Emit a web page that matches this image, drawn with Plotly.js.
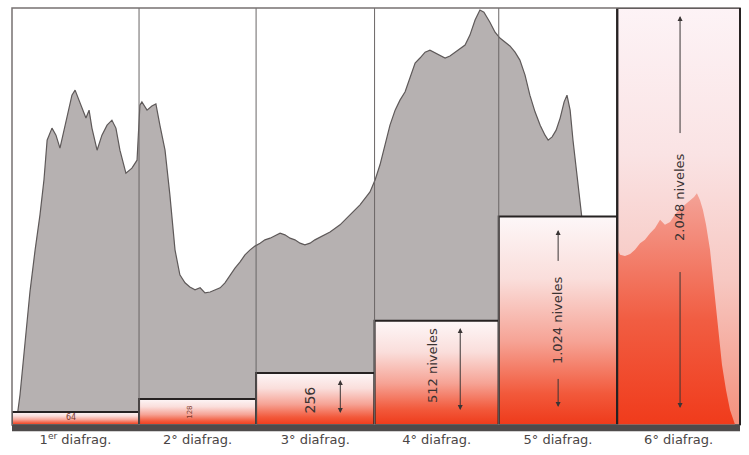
<!DOCTYPE html>
<html>
<head>
<meta charset="utf-8">
<script src="https://cdn.plot.ly/plotly-3.0.1.min.js"></script>
<style>html,body{margin:0;padding:0;background:#fff;}#chart{width:749px;height:455px;}</style>
</head>
<body>
<div id="chart"></div>
<script>
// Zones (diafragmas) and their number of levels
const zoneLabels = ["1<sup>er</sup> diafrag.", "2° diafrag.", "3° diafrag.", "4° diafrag.", "5° diafrag.", "6° diafrag."];
const zoneLevels = [64, 128, 256, 512, 1024, 2048];
const zoneEdges = [0, 44.5, 85.5, 127, 170.5, 212, 255]; // tone boundaries (0-255)
const boxTexts = ["64", "128", "256", "512 niveles", "1.024 niveles", "2.048 niveles"];

// Histogram (tone 0-255, relative count 0-100)
const histTone = [0,1.4,2.8,4.6,6.3,8.1,9.8,11.2,12.3,14.0,15.4,16.8,18.2,19.6,21.0,22.1,23.5,24.9,25.9,27.0,28.0,29.8,31.5,33.3,35.0,36.4,37.8,39.9,42.0,43.8,44.8,45.5,47.3,49.0,50.4,51.8,53.6,55.3,57.1,58.8,60.6,62.3,64.1,65.9,67.6,69.4,71.1,72.9,74.6,76.4,78.1,79.9,81.6,83.4,85.1,86.9,88.6,90.4,92.1,93.9,95.6,97.4,99.1,100.9,102.6,104.4,106.1,107.9,111.4,114.9,118.4,121.9,125.4,127.2,128.9,130.7,132.4,134.2,135.9,137.7,139.4,141.2,142.9,144.7,146.4,148.2,149.9,151.7,153.4,155.2,156.9,158.7,160.4,162.2,163.9,165.3,167.4,169.2,170.9,172.7,174.4,176.2,177.9,179.7,181.4,183.2,185.0,186.7,187.8,189.2,190.6,192.0,193.4,194.4,195.5,196.5,197.9,199.3,200.7,202.1,203.2,204.6,206.0,207.7,209.5,210.9,212,213.0,214.7,216.5,218.2,220.0,221.7,223.5,225.2,227.0,228.7,230.5,232.2,234.0,235.7,237.5,238.9,239.9,241.0,242.0,243.1,244.5,245.9,247.3,248.7,250.1,251.5,253.3,255];
const histCount = [0,0,7.2,20.4,32.0,42.0,50.4,58.8,68.3,71.2,69.5,66.4,70.7,75.5,79.1,80.3,77.9,75.5,73.6,75.5,71.2,65.9,69.5,71.9,73.1,71.2,65.9,60.4,61.6,63.5,76.7,77.5,75.5,76.5,77.0,71.9,65.9,55.2,42.0,36.0,34.1,33.1,32.4,32.9,31.7,31.9,32.4,32.9,34.1,36.0,37.6,39.1,40.8,42.0,42.9,43.6,44.4,44.8,45.3,46.0,45.6,44.8,44.4,43.6,43.2,43.6,44.4,45.1,46.3,48.0,50.4,52.8,55.9,58.8,62.4,67.1,71.9,75.5,77.9,79.9,83.2,86.8,88.0,89.4,89.9,89.2,88.7,88.0,88.5,89.4,90.4,91.1,93.5,97.1,99.5,99.0,96.6,94.2,92.8,91.8,90.9,89.4,87.5,83.9,79.1,75.1,71.9,69.5,68.3,69.1,70.7,73.6,77.5,79.1,75.5,68.3,60.0,51.6,43.2,39.1,38.4,39.1,40.0,40.8,42.0,43.2,42.4,40.8,40.5,41.0,42.0,43.6,44.4,46.0,47.2,49.2,48.0,48.7,50.4,52.0,52.8,53.9,54.7,55.6,53.9,51.6,48.0,42.0,32.4,22.8,14.4,8.4,3.6,0,0];

const font = "DejaVu Sans, Verdana, sans-serif";
const traces = [];

// gray histogram (base axis)
traces.push({
  type: "scatter", mode: "lines", x: histTone, y: histCount, xaxis: "x", yaxis: "y",
  fill: "tozeroy", fillcolor: "#b6b1b1", line: {color: "#5e5959", width: 1.2},
  hoverinfo: "skip", showlegend: false
});

// level boxes (levels axis)
const boxScale = [[0, "#ee3a1a"], [0.15, "#f2593b"], [0.4, "#f6a395"], [0.7, "#fadedb"], [1, "#fdf7f8"]];
const box6Scale = [[0, "#f3907c"], [0.35, "#f7c8c2"], [0.65, "#fae3e4"], [1, "#fdf3f6"]];
for (let i = 0; i < zoneLevels.length; i++) {
  const x0 = zoneEdges[i], x1 = zoneEdges[i + 1], L = zoneLevels[i];
  traces.push({
    type: "scatter", mode: "lines", x: [x0, x0, x1, x1, x0], y: [0, L, L, 0, 0],
    xaxis: "x", yaxis: "y2", fill: "toself",
    fillgradient: {type: "vertical", colorscale: i === 5 ? box6Scale : boxScale, start: 0, stop: L},
    line: {color: "#262222", width: 2}, hoverinfo: "skip", showlegend: false
  });
}

// red histogram inside the 6th zone
const h6x = [], h6y = [];
for (let i = 0; i < histTone.length; i++) {
  if (histTone[i] >= zoneEdges[5]) { h6x.push(histTone[i]); h6y.push(histCount[i]); }
}
traces.push({
  type: "scatter", mode: "lines", x: h6x, y: h6y, xaxis: "x", yaxis: "y3",
  fill: "tozeroy",
  fillgradient: {type: "vertical", colorscale: [[0, "#f03b1b"], [0.45, "#f15d42"], [1, "#f4a398"]], start: 0, stop: 56},
  line: {color: "rgba(0,0,0,0)", width: 0}, hoverinfo: "skip", showlegend: false
});

const centers = [];
for (let i = 0; i < zoneLevels.length; i++) centers.push((zoneEdges[i] + zoneEdges[i + 1]) / 2);

const annColor = "#3b3333";
const arrowStyle = {xref: "x", yref: "y2", axref: "x", ayref: "y2", text: " ", showarrow: true, arrowhead: 2, arrowsize: 1, arrowwidth: 1, arrowcolor: "#3a3535", font: {size: 1}};
const annotations = [
  {x: 20.5, y: 36, xref: "x", yref: "y2", text: boxTexts[0], showarrow: false, font: {family: font, size: 8, color: "#7a3a2e"}},
  {x: 62.5, y: 62, xref: "x", yref: "y2", text: boxTexts[1], showarrow: false, textangle: -90, font: {family: font, size: 7, color: "#7a3a2e"}},
  {x: 104.5, y: 122, xref: "x", yref: "y2", text: boxTexts[2], showarrow: false, textangle: -90, font: {family: font, size: 14, color: annColor}},
  {x: 147.5, y: 290, xref: "x", yref: "y2", text: boxTexts[3], showarrow: false, textangle: -90, font: {family: font, size: 13, color: annColor}},
  {x: 191.3, y: 516, xref: "x", yref: "y2", text: boxTexts[4], showarrow: false, textangle: -90, font: {family: font, size: 13, color: annColor}},
  {x: 234, y: 1120, xref: "x", yref: "y2", text: boxTexts[5], showarrow: false, textangle: -90, font: {family: font, size: 13, color: annColor}},
  Object.assign({}, arrowStyle, {x: 115, y: 221, ax: 115, ay: 49, arrowside: "end+start", startarrowhead: 2, startarrowsize: 1}),
  Object.assign({}, arrowStyle, {x: 157, y: 476, ax: 157, ay: 64, arrowside: "end+start", startarrowhead: 2, startarrowsize: 1}),
  Object.assign({}, arrowStyle, {x: 191.3, y: 958, ax: 191.3, ay: 796}),
  Object.assign({}, arrowStyle, {x: 191.3, y: 88, ax: 191.3, ay: 236}),
  Object.assign({}, arrowStyle, {x: 234, y: 2009, ax: 234, ay: 1424}),
  Object.assign({}, arrowStyle, {x: 234, y: 83, ax: 234, ay: 761})
];

const shapes = [];
// zone separators
for (let i = 1; i < zoneEdges.length - 1; i++) {
  shapes.push({type: "line", xref: "x", yref: "paper", x0: zoneEdges[i], x1: zoneEdges[i], y0: 0, y1: 1, line: {color: i === 5 ? "#262222" : "#6a6666", width: i === 5 ? 2 : 1}, layer: "above"});
}
// frame
shapes.push({type: "rect", xref: "paper", yref: "paper", x0: 0, x1: 1, y0: 0, y1: 1, line: {color: "#777272", width: 1.5}, layer: "above"});
shapes.push({type: "line", xref: "paper", yref: "paper", x0: 1, x1: 1, y0: 0, y1: 1, line: {color: "#262222", width: 2}, layer: "above"});
// dark base band
shapes.push({type: "rect", xref: "paper", yref: "paper", x0: 0, x1: 1, y0: -0.015, y1: 0, fillcolor: "#4e4a4a", line: {width: 0}, layer: "above"});

const layout = {
  width: 749, height: 455,
  margin: {l: 12, r: 9, t: 8, b: 30},
  paper_bgcolor: "#ffffff", plot_bgcolor: "#ffffff",
  showlegend: false,
  xaxis: {range: [0, 255], showgrid: false, zeroline: false, showline: false, ticks: "",
          tickvals: centers, ticktext: zoneLabels, tickfont: {family: font, size: 13, color: "#4a4545"}, ticklabelstandoff: 5},
  yaxis: {range: [0, 100], visible: false, fixedrange: true},
  yaxis2: {range: [0, 2048], overlaying: "y", visible: false},
  yaxis3: {range: [0, 100], overlaying: "y", visible: false},
  shapes: shapes,
  annotations: annotations
};

Plotly.newPlot("chart", traces, layout, {displayModeBar: false, staticPlot: true});
</script>
</body>
</html>
